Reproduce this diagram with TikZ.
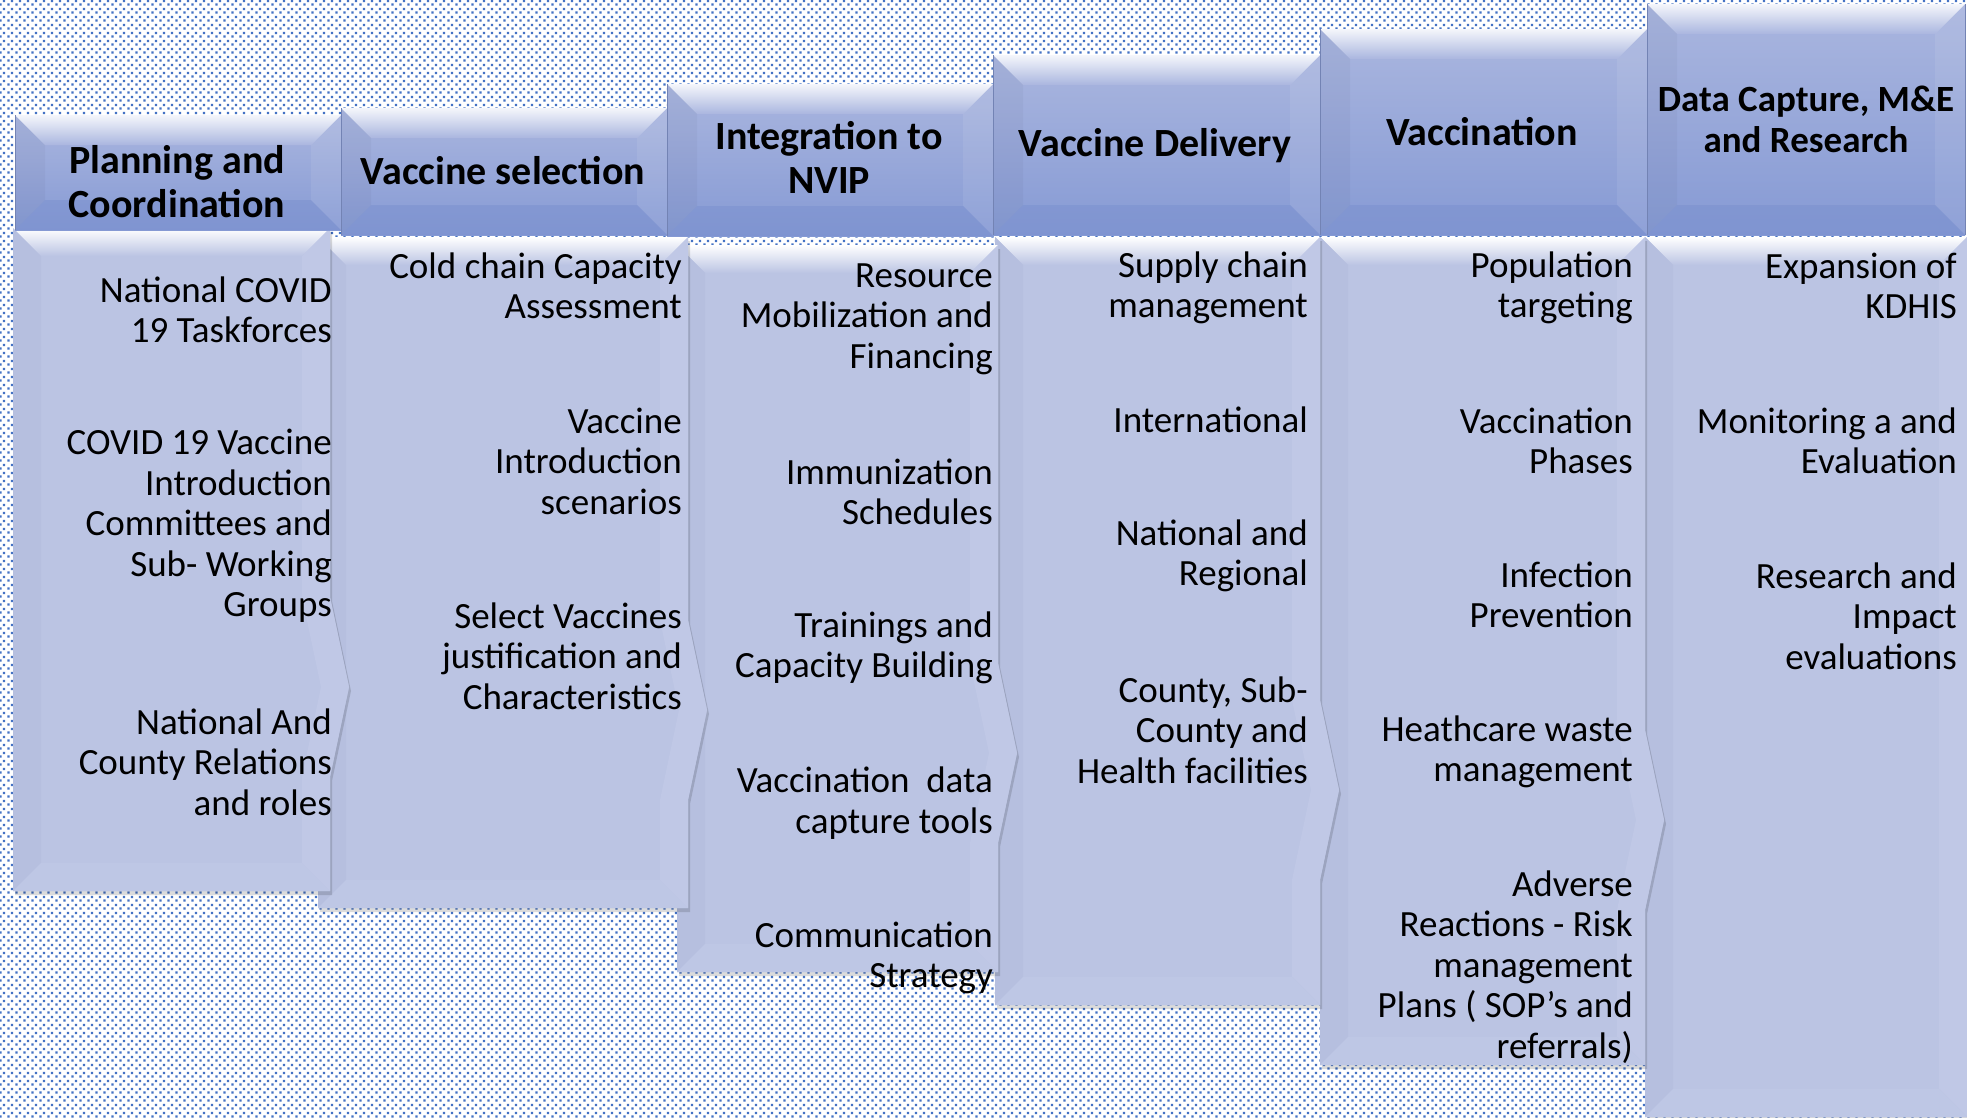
\documentclass[tikz,border=0pt]{standalone}
\usepackage{fontspec}
\setmainfont{Carlito}
\usetikzlibrary{patterns}
\definecolor{dotblue}{HTML}{4472C4}
\definecolor{hdrA}{HTML}{AAB6DF}
\definecolor{hdrB}{HTML}{869AD4}
\definecolor{hdrbottom}{HTML}{7A90CF}
\definecolor{hdredge}{HTML}{7383B4}
\definecolor{bodybase}{HTML}{BBC4E3}
\definecolor{bodyleft}{HTML}{B6BFDF}
\definecolor{bodyright}{HTML}{C0C8E6}
\definecolor{bodybottom}{HTML}{BEC7E5}
\pgfdeclarepatternformonly{bgdots}{\pgfqpoint{0pt}{0pt}}{\pgfqpoint{8pt}{8pt}}{\pgfqpoint{8pt}{8pt}}{%
  \pgfpathrectangle{\pgfqpoint{0.4pt}{0.4pt}}{\pgfqpoint{2.5pt}{2.5pt}}%
  \pgfpathrectangle{\pgfqpoint{4.4pt}{4.4pt}}{\pgfqpoint{2.5pt}{2.5pt}}%
  \pgfusepath{fill}}
% body: x1 y1 x2 y2 chevron-centre-y
\newcommand\bodyshape[5]{%
  \fill[black,opacity=.14] ({#1+2},{#2+4}) -- ({#3+2},{#2+4}) -- ({#3+2},{#5-86}) -- ({#3+21},{#5+4}) -- ({#3+2},{#5+94}) -- ({#3+2},{#4+4}) -- ({#1+2},{#4+4}) -- cycle;
  \fill[bodybase] (#1,#2) -- (#3,#2) -- (#3,{#5-90}) -- ({#3+19},#5) -- (#3,{#5+90}) -- (#3,#4) -- (#1,#4) -- cycle;
  \shade[top color=white, bottom color=bodybase] (#1,#2) -- (#3,#2) -- ({#3-28},{#2+28}) -- ({#1+28},{#2+28}) -- cycle;
  \fill[bodyleft] (#1,#2) -- ({#1+28},{#2+28}) -- ({#1+28},{#4-28}) -- (#1,#4) -- cycle;
  \fill[bodyright] (#3,#2) -- (#3,{#5-90}) -- ({#3+19},#5) -- (#3,{#5+90}) -- (#3,#4) -- ({#3-28},{#4-28}) -- ({#3-28},{#5+90}) -- ({#3-9},#5) -- ({#3-28},{#5-90}) -- ({#3-28},{#2+28}) -- cycle;
  \fill[bodybottom] (#1,#4) -- ({#1+28},{#4-28}) -- ({#3-28},{#4-28}) -- (#3,#4) -- cycle;
}
% header: x1 y1 x2 y2
\newcommand\hdrshape[4]{%
  \shade[top color=hdrA, bottom color=hdrB] (#1,#2) rectangle (#3,#4);
  \shade[top color=white!88!hdrA, bottom color=hdrA] (#1,#2) -- (#3,#2) -- ({#3-30},{#2+30}) -- ({#1+30},{#2+30}) -- cycle;
  \fill[black, opacity=.03] (#1,#2) -- ({#1+30},{#2+30}) -- ({#1+30},{#4-30}) -- (#1,#4) -- cycle;
  \fill[white, opacity=.08] (#3,#2) -- ({#3-30},{#2+30}) -- ({#3-30},{#4-30}) -- (#3,#4) -- cycle;
  \fill[hdrbottom, opacity=.5] (#1,#4) -- ({#1+30},{#4-30}) -- ({#3-30},{#4-30}) -- (#3,#4) -- cycle;
  \draw[hdredge, line width=1pt] (#1,#2) -- (#1,#4) (#3,#2) -- (#3,#4);
}
\begin{document}
\begin{tikzpicture}[x=1pt,y=-1pt,
  itemtxt/.style={anchor=east, align=right, inner sep=0pt, font=\fontsize{37}{40.5}\selectfont},
  hdrtxt/.style={anchor=center, align=center, inner sep=0pt, font=\bfseries\fontsize{40}{44}\selectfont}]
\useasboundingbox (0,0) rectangle (1967,1117);
\fill[white] (0,0) rectangle (1967,1117);
\fill[pattern=bgdots, pattern color=dotblue] (0,0) rectangle (1967,1117);
% bodies, right to left so that each chevron lies over the next column
\bodyshape{1645}{237}{1967}{1117}{1400}
\bodyshape{1320}{237}{1645}{1065}{820}
\bodyshape{995}{237}{1320}{1005}{790}
\bodyshape{677}{245}{998}{972}{753}
\bodyshape{318}{237}{688}{908}{710}
\bodyshape{13}{228}{330}{891}{687}
% headers
\hdrshape{15}{115}{341}{230}
\hdrshape{341}{108}{667}{235}
\hdrshape{667}{84}{993}{236}
\hdrshape{993}{55}{1320}{235}
\hdrshape{1320}{29}{1647}{235}
\hdrshape{1647}{4}{1965}{235}
% header texts
\node[hdrtxt] (h1) at (177,182) {Planning and\\Coordination};
\node[hdrtxt] (h2) at (503,171) {Vaccine selection};
\node[hdrtxt] (h3) at (829,157) {Integration to\\NVIP};
\node[hdrtxt] (h4) at (1155,146) {Vaccine Delivery};
\node[hdrtxt] (h5) at (1482,132) {Vaccination};
\node[hdrtxt, font=\bfseries\fontsize{37}{41}\selectfont] (h6) at (1806,119) {Data Capture, M\&E\\and Research};
% column 1
\node[itemtxt] (c1a) at (332,310) {National COVID\\19 Taskforces};
\node[itemtxt] (c1b) at (332,526) {COVID 19 Vaccine\\Introduction\\Committees and\\Sub- Working\\Groups};
\node[itemtxt] (c1c) at (332,762) {National And\\County Relations\\and roles};
% column 2
\node[itemtxt] (c2a) at (682,286) {Cold chain Capacity\\Assessment};
\node[itemtxt] (c2b) at (682,461) {Vaccine\\Introduction\\scenarios};
\node[itemtxt] (c2c) at (682,656) {Select Vaccines\\justification and\\Characteristics};
% column 3
\node[itemtxt] (c3a) at (993,319) {Resource\\Mobilization and\\Financing};
\node[itemtxt] (c3b) at (993,492) {Immunization\\Schedules};
\node[itemtxt] (c3c) at (993,648) {Trainings and\\Capacity Building};
\node[itemtxt] (c3d) at (993,803) {Vaccination~~data\\capture tools};
\node[itemtxt] (c3e) at (993,958) {Communication\\Strategy};
% column 4
\node[itemtxt] (c4a) at (1308,288) {Supply chain\\management};
\node[itemtxt] (c4b) at (1308,420) {International};
\node[itemtxt] (c4c) at (1308,556) {National and\\Regional};
\node[itemtxt] (c4d) at (1308,730) {County, Sub-\\County and\\Health facilities};
% column 5
\node[itemtxt] (c5a) at (1633,288) {Population\\targeting};
\node[itemtxt] (c5b) at (1633,441) {Vaccination\\Phases};
\node[itemtxt] (c5c) at (1633,595) {Infection\\Prevention};
\node[itemtxt] (c5d) at (1633,752) {Heathcare waste\\management};
\node[itemtxt] (c5e) at (1633,967) {Adverse\\Reactions - Risk\\management\\Plans ( SOP's and\\referrals)};
% column 6
\node[itemtxt] (c6a) at (1957,286) {Expansion of\\KDHIS};
\node[itemtxt] (c6b) at (1957,441) {Monitoring a and\\Evaluation};
\node[itemtxt] (c6c) at (1957,616) {Research and\\Impact\\evaluations};
\end{tikzpicture}
\end{document}
